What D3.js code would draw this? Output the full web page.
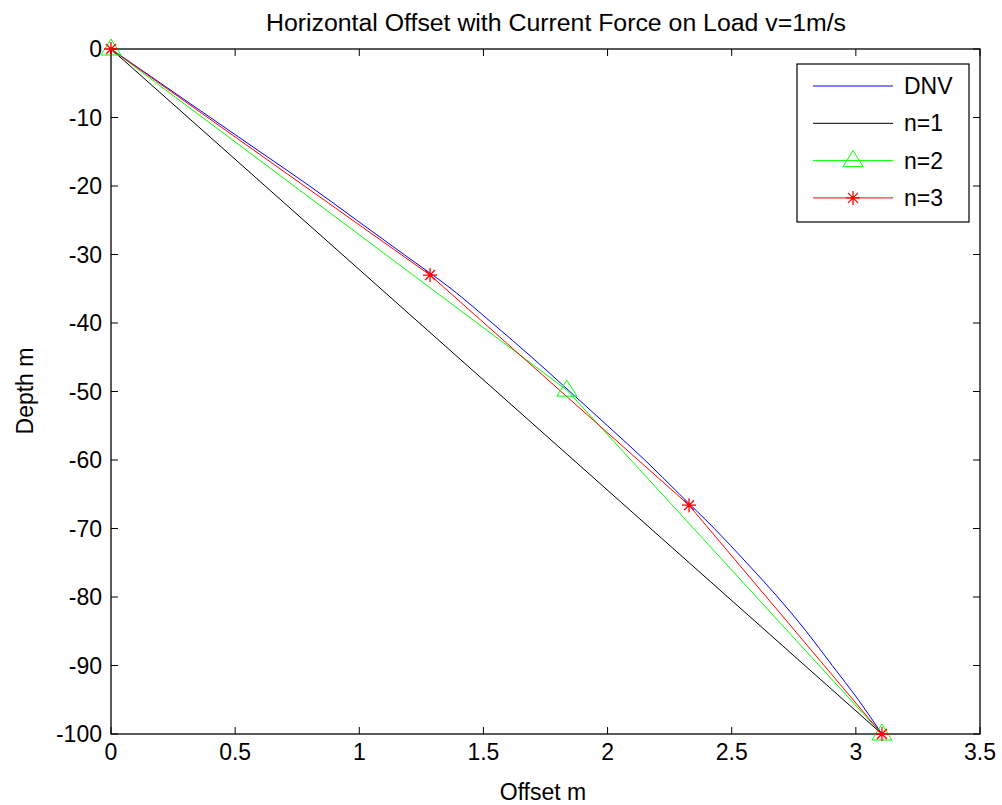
<!DOCTYPE html>
<html><head><meta charset="utf-8">
<script src="https://cdn.jsdelivr.net/npm/d3@7"></script>
<style>body{margin:0;background:#fff}svg{display:block}text{font-family:"Liberation Sans",Arial,sans-serif;fill:#000}</style>
</head><body><svg id="c" width="1002" height="805"></svg>
<script>
const dnvDepth = [0,5,10,15,20,25,30,35,40,45,50,55,60,65,70,75,80,85,90,95,100];
const dnvOffset = [0,0.20,0.40,0.60,0.80,0.99,1.18,1.37,1.535,1.695,1.848,2.0,2.15,2.29,2.43,2.56,2.685,2.80,2.905,3.01,3.105];
const n1Depth = [0,100];
const n1Offset = [0,3.105];
const n2Depth = [0,49.8,100];
const n2Offset = [0,1.836,3.105];
const n3Depth = [0,33.0,66.6,100];
const n3Offset = [0,1.285,2.328,3.105];
const xTicks = [0,0.5,1,1.5,2,2.5,3,3.5];
const yTicks = [0,-10,-20,-30,-40,-50,-60,-70,-80,-90,-100];
const legendLabels = ["DNV","n=1","n=2","n=3"];

const svg = d3.select("#c");
const L=111,R=980,T=49,B=734;
const FS=23;
const x = d3.scaleLinear().domain([0,3.5]).range([L,R]);
const y = d3.scaleLinear().domain([-100,0]).range([B,T]);

const tl=7;
const g=svg.append("g").attr("stroke","#000").attr("stroke-width",1);
xTicks.forEach(t=>{
  g.append("line").attr("x1",x(t)).attr("x2",x(t)).attr("y1",B).attr("y2",B-tl);
  g.append("line").attr("x1",x(t)).attr("x2",x(t)).attr("y1",T).attr("y2",T+tl);
});
yTicks.forEach(t=>{
  g.append("line").attr("x1",L).attr("x2",L+tl).attr("y1",y(t)).attr("y2",y(t));
  g.append("line").attr("x1",R).attr("x2",R-tl).attr("y1",y(t)).attr("y2",y(t));
});
svg.append("rect").attr("x",L).attr("y",T).attr("width",R-L).attr("height",B-T)
  .attr("fill","none").attr("stroke","#000").attr("stroke-width",1.3);

svg.selectAll(".xt").data(xTicks).enter().append("text")
  .attr("x",d=>x(d)).attr("y",B+26).attr("text-anchor","middle").attr("font-size",FS).text(d=>d);
svg.selectAll(".yt").data(yTicks).enter().append("text")
  .attr("x",L-9).attr("y",d=>y(d)+8).attr("text-anchor","end").attr("font-size",FS).text(d=>d);

svg.append("text").attr("x",556).attr("y",31).attr("text-anchor","middle").attr("font-size",FS)
  .attr("textLength",580).attr("lengthAdjust","spacingAndGlyphs")
  .text("Horizontal Offset with Current Force on Load v=1m/s");
svg.append("text").attr("x",543).attr("y",800).attr("text-anchor","middle").attr("font-size",FS).text("Offset m");
svg.append("text").attr("transform","translate(33,391) rotate(-90)").attr("text-anchor","middle").attr("font-size",FS).text("Depth m");

const line = d3.line().x(d=>x(d[0])).y(d=>y(-d[1]));
function pts(o,dep){return o.map((v,i)=>[v,dep[i]]);}
const pg = svg.append("g");
pg.append("path").datum(pts(n1Offset,n1Depth)).attr("d",line).attr("fill","none").attr("stroke","#000").attr("stroke-width",1);
pg.append("path").datum(pts(n2Offset,n2Depth)).attr("d",line).attr("fill","none").attr("stroke","#00ff00").attr("stroke-width",1);
pg.append("path").datum(pts(dnvOffset,dnvDepth)).attr("d",d3.line().x(d=>x(d[0])).y(d=>y(-d[1])).curve(d3.curveMonotoneY)).attr("fill","none").attr("stroke","#0000ff").attr("stroke-width",1);
pg.append("path").datum(pts(n3Offset,n3Depth)).attr("d",line).attr("fill","none").attr("stroke","#ff0000").attr("stroke-width",1);

function tri(sel,cx,cy){
  sel.append("path").attr("d",`M${cx},${cy-10}L${cx+10},${cy+6}L${cx-10},${cy+6}Z`)
    .attr("fill","none").attr("stroke","#00ff00").attr("stroke-width",1);
}
function star(sel,cx,cy){
  const s=7,d=5;
  sel.append("path").attr("d",`M${cx-s},${cy}H${cx+s}M${cx},${cy-s}V${cy+s}M${cx-d},${cy-d}L${cx+d},${cy+d}M${cx-d},${cy+d}L${cx+d},${cy-d}`)
    .attr("fill","none").attr("stroke","#ff0000").attr("stroke-width",1.3);
}
n2Offset.forEach((v,i)=>tri(svg,x(v),y(-n2Depth[i])));
n3Offset.forEach((v,i)=>star(svg,x(v),y(-n3Depth[i])));

const lg=svg.append("g");
lg.append("rect").attr("x",797).attr("y",64).attr("width",172).attr("height",158).attr("fill","#fff").attr("stroke","#000").attr("stroke-width",1.2);
const cols=["#0000ff","#000","#00ff00","#ff0000"];
legendLabels.forEach((lab,i)=>{
  const yy=86+i*37.3;
  lg.append("line").attr("x1",813).attr("x2",893).attr("y1",yy).attr("y2",yy).attr("stroke",cols[i]).attr("stroke-width",1);
  if(i===2) tri(lg,853,yy);
  if(i===3) star(lg,853,yy);
  lg.append("text").attr("x",904).attr("y",yy+8).attr("font-size",FS).text(lab);
});
</script></body></html>
